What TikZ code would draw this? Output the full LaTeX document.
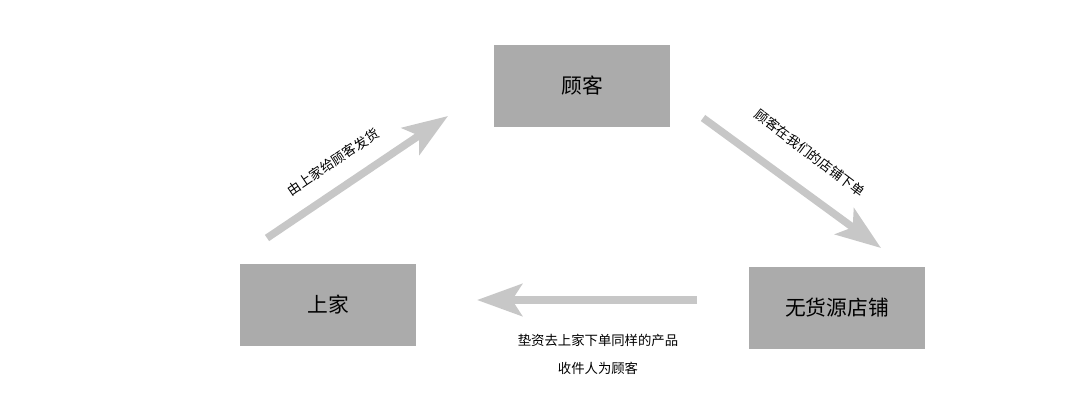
\documentclass[tikz,border=0pt]{standalone}
\usepackage{fontspec}
\setmainfont{Noto Sans CJK SC}
\usetikzlibrary{arrows.meta}
\begin{document}
\begin{tikzpicture}[x=0.01cm,y=-0.01cm,
  box/.style={fill=black!33,minimum width=1.76cm,minimum height=0.82cm,inner sep=0pt,font=\fontsize{5.9pt}{7pt}\selectfont},
  flow/.style={draw=black!22,line width=0.075cm,-{Stealth[length=0.45cm,width=0.32cm,inset=0.1cm]}},
  lab/.style={font=\fontsize{3.8pt}{4.5pt}\selectfont,inner sep=0pt}]
\useasboundingbox (0,0) rectangle (1074,400);
\node[box] (gk) at (582,86) {顾客};
\node[box] (sj) at (328,305) {上家};
\node[box] (dp) at (837,308) {无货源店铺};
\coordinate (a1s) at (267,238); \coordinate (a1e) at (448,116);
\coordinate (a2s) at (703,118); \coordinate (a2e) at (881,248);
\coordinate (a3s) at (697,300); \coordinate (a3e) at (477,300);
\draw[flow] (a1s) -- (a1e);
\draw[flow] (a2s) -- (a2e);
\draw[flow] (a3s) -- (a3e);
\node[lab,rotate=34] (l1) at (333,162) {由上家给顾客发货};
\node[lab,rotate=-37] (l2) at (810,153) {顾客在我们的店铺下单};
\node[lab] (l3) at (598,340) {垫资去上家下单同样的产品};
\node[lab] (l4) at (598,368) {收件人为顾客};
\end{tikzpicture}
\end{document}
